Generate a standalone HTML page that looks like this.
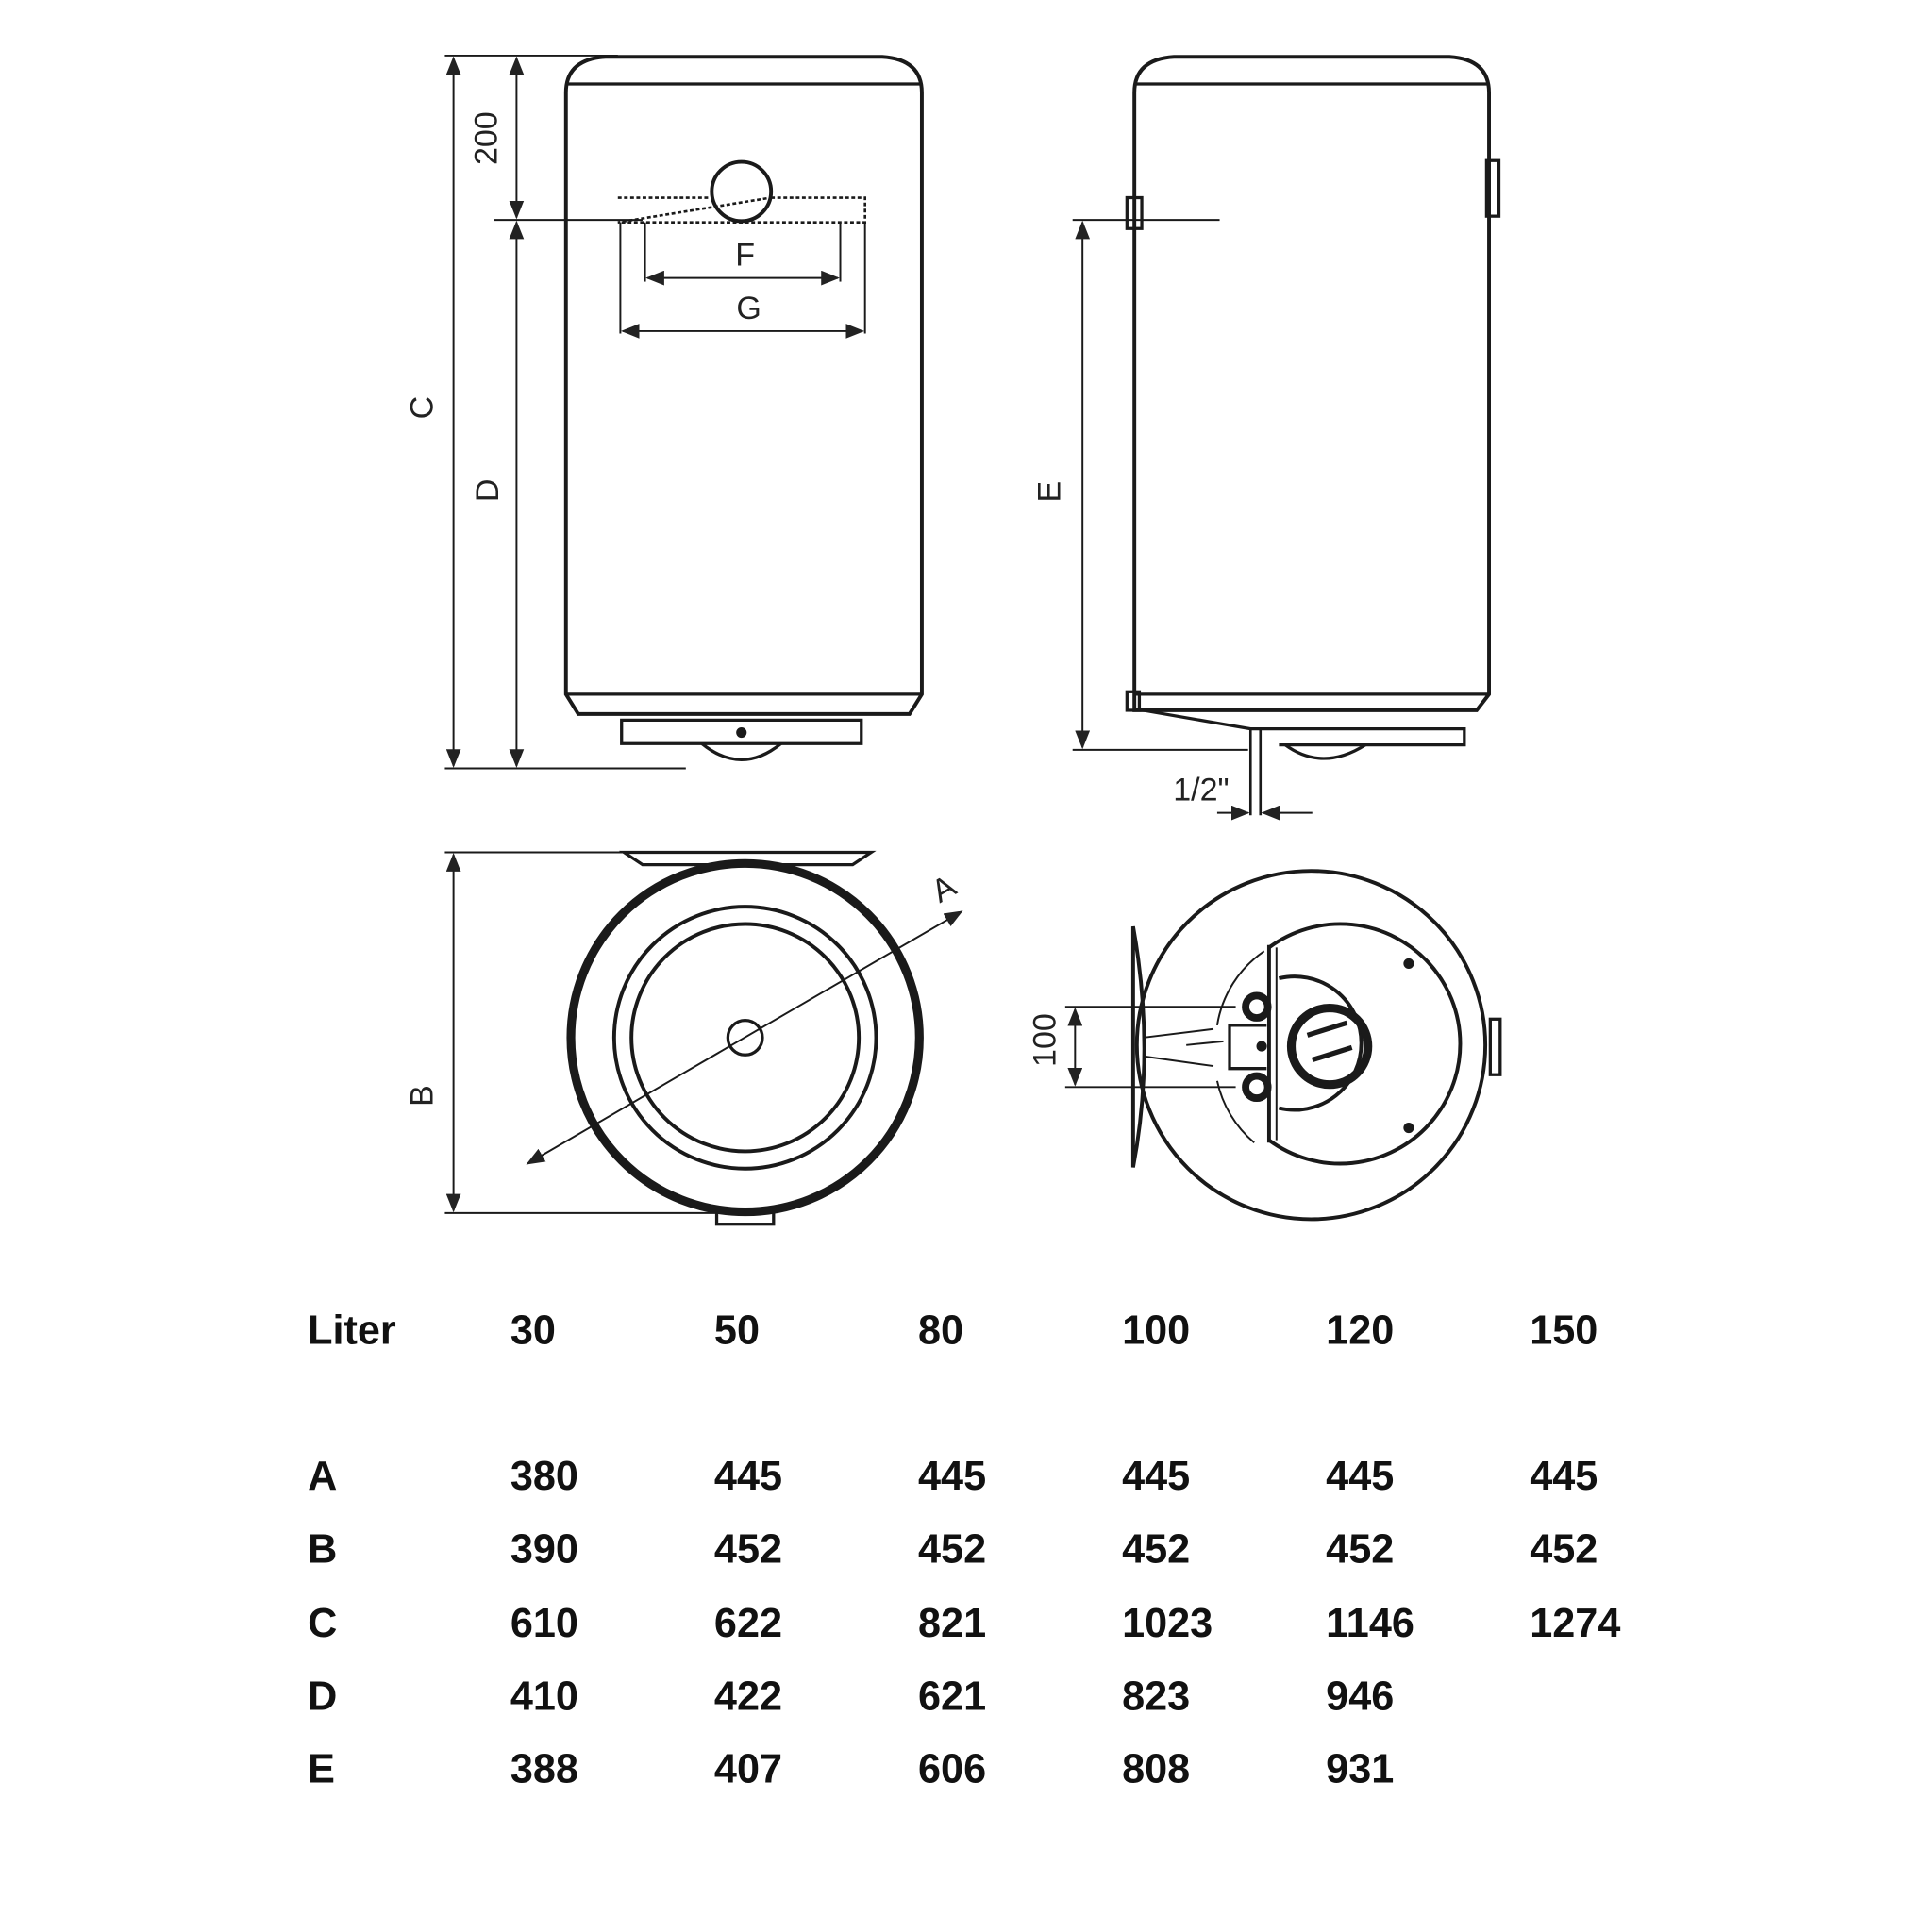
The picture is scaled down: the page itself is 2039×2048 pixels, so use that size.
<!DOCTYPE html>
<html><head><style>
html,body{margin:0;padding:0;background:#fff;}
svg{display:block;}
.t{font-family:"Liberation Sans",sans-serif;font-size:26px;fill:#222;}
.b{font-family:"Liberation Sans",sans-serif;font-weight:bold;font-size:33px;fill:#111;}
</style></head><body>
<svg width="2039" height="2048" viewBox="0 0 1557 1564" preserveAspectRatio="none" xmlns="http://www.w3.org/2000/svg">
<defs><marker id="a" markerWidth="10" markerHeight="8" refX="9" refY="4" orient="auto-start-reverse"><path d="M0,0 L10,4 L0,8 z" fill="#222"/></marker></defs>
<g stroke="#1a1a1a" fill="none" stroke-width="2.5">
<!-- front view -->
<path d="M458,75 Q458,48 490,46 L714,46 Q746,48 746,75 L746,562 L736,578 L468,578 L458,562 Z" stroke-width="3"/>
<line x1="458" y1="68" x2="746" y2="68"/>
<line x1="458" y1="562" x2="746" y2="562"/>
<path d="M503,583 L697,583 L697,602 L503,602 Z"/>
<path d="M568,602 Q600,628 632,602" />
<circle cx="600" cy="593" r="3" fill="#1a1a1a"/>
<circle cx="600" cy="155" r="24" stroke-width="3"/>
<path d="M500,160 L576,160 M624,160 L700,160 L700,180 L500,180 Z" stroke-dasharray="3,2" stroke-width="2"/>
<line x1="522" y1="180" x2="522" y2="228" stroke-width="1.5"/>
<line x1="680" y1="180" x2="680" y2="228" stroke-width="1.5"/>
<line x1="502" y1="180" x2="502" y2="270" stroke-width="1.5"/>
<line x1="700" y1="180" x2="700" y2="270" stroke-width="1.5"/>
<line x1="524" y1="225" x2="678" y2="225" stroke-width="1.5" marker-start="url(#a)" marker-end="url(#a)"/>
<line x1="504" y1="268" x2="698" y2="268" stroke-width="1.5" marker-start="url(#a)" marker-end="url(#a)"/>
<g stroke-width="1.5">
<line x1="360" y1="45" x2="500" y2="45"/>
<line x1="400" y1="178" x2="520" y2="178"/>
<line x1="360" y1="622" x2="555" y2="622"/>
<line x1="367" y1="47" x2="367" y2="620" marker-start="url(#a)" marker-end="url(#a)"/>
<line x1="418" y1="47" x2="418" y2="176" marker-start="url(#a)" marker-end="url(#a)"/>
<line x1="418" y1="180" x2="418" y2="620" marker-start="url(#a)" marker-end="url(#a)"/>
</g>
<!-- side view -->
<path d="M918,75 Q918,48 950,46 L1173,46 Q1205,48 1205,75 L1205,562 L1195,575 L918,575 Z" stroke-width="3"/>
<line x1="918" y1="68" x2="1205" y2="68"/>
<line x1="918" y1="562" x2="1205" y2="562"/>
<rect x="1203" y="130" width="10" height="45"/>
<rect x="912" y="160" width="12" height="25"/>
<rect x="912" y="560" width="10" height="15"/>
<path d="M925,575 L1012,590 L1185,590 L1185,603 L1035,603"/>
<path d="M1040,603 Q1070,625 1105,603"/>
<line x1="1012" y1="590" x2="1012" y2="660" stroke-width="2"/>
<line x1="1020" y1="590" x2="1020" y2="660" stroke-width="2"/>
<g stroke-width="1.5">
<line x1="868" y1="178" x2="987" y2="178"/>
<line x1="868" y1="607" x2="1010" y2="607"/>
<line x1="876" y1="180" x2="876" y2="605" marker-start="url(#a)" marker-end="url(#a)"/>
<line x1="985" y1="658" x2="1010" y2="658" marker-end="url(#a)"/>
<line x1="1062" y1="658" x2="1022" y2="658" marker-end="url(#a)"/>
</g>
<!-- bottom left -->
<path d="M505,690 L705,690 L690,700 L520,700 Z"/>
<circle cx="603" cy="840" r="141" stroke-width="7"/>
<circle cx="603" cy="840" r="106" stroke-width="3"/>
<circle cx="603" cy="840" r="92" stroke-width="3"/>
<circle cx="603" cy="840" r="14" stroke-width="2.5"/>
<rect x="580" y="981" width="46" height="10"/>
<line x1="427" y1="942" x2="778" y2="738" stroke-width="1.5" marker-start="url(#a)" marker-end="url(#a)"/>
<g stroke-width="1.5">
<line x1="360" y1="690" x2="505" y2="690"/>
<line x1="360" y1="982" x2="580" y2="982"/>
<line x1="367" y1="692" x2="367" y2="980" marker-start="url(#a)" marker-end="url(#a)"/>
</g>
<!-- bottom right -->
<circle cx="1061" cy="846" r="141" stroke-width="3"/>
<path d="M1027,767 A97,97 0 1 1 1027,923" stroke-width="3"/>
<line x1="1027" y1="765" x2="1027" y2="925" stroke-width="3"/>
<line x1="1033" y1="767" x2="1033" y2="923" stroke-width="1.5"/>
<path d="M1035,792 A54,54 0 1 1 1035,897" stroke-width="3"/>
<circle cx="1076" cy="847" r="31" stroke-width="7"/>
<line x1="1058" y1="838" x2="1090" y2="828" stroke-width="4"/>
<line x1="1062" y1="858" x2="1094" y2="848" stroke-width="4"/>
<circle cx="1017" cy="815" r="9" stroke-width="6"/>
<circle cx="1017" cy="880" r="9" stroke-width="6"/>
<path d="M1025,830 L995,830 L995,865 L1025,865" />
<circle cx="1021" cy="847" r="3" fill="#1a1a1a"/>
<path d="M1023,770 A90,90 0 0 0 985,830 M985,875 A90,90 0 0 0 1015,925" stroke-width="1.5"/>
<path d="M925,840 L982,833 M925,855 L982,863 M960,846 L990,843" stroke-width="1.5"/>
<path d="M917,750 Q935,850 917,945 Z" stroke-width="3"/>
<rect x="1206" y="825" width="8" height="45"/>
<circle cx="1140" cy="780" r="3" fill="#1a1a1a"/>
<circle cx="1140" cy="913" r="3" fill="#1a1a1a"/>
<g stroke-width="1.5">
<line x1="862" y1="815" x2="1000" y2="815"/>
<line x1="862" y1="880" x2="1000" y2="880"/>
<line x1="870" y1="817" x2="870" y2="878" marker-start="url(#a)" marker-end="url(#a)"/>
</g>
</g>
<text class="t" transform="translate(402,112) rotate(-90)" text-anchor="middle">200</text>
<text class="t" transform="translate(350,330) rotate(-90)" text-anchor="middle">C</text>
<text class="t" transform="translate(403,397) rotate(-90)" text-anchor="middle">D</text>
<text class="t" x="603" y="215" text-anchor="middle">F</text>
<text class="t" x="606" y="258" text-anchor="middle">G</text>
<text class="t" transform="translate(858,398) rotate(-90)" text-anchor="middle">E</text>
<text class="t" x="972" y="648" text-anchor="middle">1/2"</text>
<text class="t" transform="translate(768,727) rotate(-30)" text-anchor="middle">A</text>
<text class="t" transform="translate(350,887) rotate(-90)" text-anchor="middle">B</text>
<text class="t" transform="translate(854,842) rotate(-90)" text-anchor="middle">100</text>
<g class="b">
<text x="249" y="1088" class="b">Liter</text><text x="413" y="1088" class="b">30</text><text x="578" y="1088" class="b">50</text><text x="743" y="1088" class="b">80</text><text x="908" y="1088" class="b">100</text><text x="1073" y="1088" class="b">120</text><text x="1238" y="1088" class="b">150</text>
<text x="249" y="1206" class="b">A</text><text x="413" y="1206" class="b">380</text><text x="578" y="1206" class="b">445</text><text x="743" y="1206" class="b">445</text><text x="908" y="1206" class="b">445</text><text x="1073" y="1206" class="b">445</text><text x="1238" y="1206" class="b">445</text>
<text x="249" y="1265" class="b">B</text><text x="413" y="1265" class="b">390</text><text x="578" y="1265" class="b">452</text><text x="743" y="1265" class="b">452</text><text x="908" y="1265" class="b">452</text><text x="1073" y="1265" class="b">452</text><text x="1238" y="1265" class="b">452</text>
<text x="249" y="1325" class="b">C</text><text x="413" y="1325" class="b">610</text><text x="578" y="1325" class="b">622</text><text x="743" y="1325" class="b">821</text><text x="908" y="1325" class="b">1023</text><text x="1073" y="1325" class="b">1146</text><text x="1238" y="1325" class="b">1274</text>
<text x="249" y="1384" class="b">D</text><text x="413" y="1384" class="b">410</text><text x="578" y="1384" class="b">422</text><text x="743" y="1384" class="b">621</text><text x="908" y="1384" class="b">823</text><text x="1073" y="1384" class="b">946</text>
<text x="249" y="1443" class="b">E</text><text x="413" y="1443" class="b">388</text><text x="578" y="1443" class="b">407</text><text x="743" y="1443" class="b">606</text><text x="908" y="1443" class="b">808</text><text x="1073" y="1443" class="b">931</text>
</g>
</svg>
</body></html>
